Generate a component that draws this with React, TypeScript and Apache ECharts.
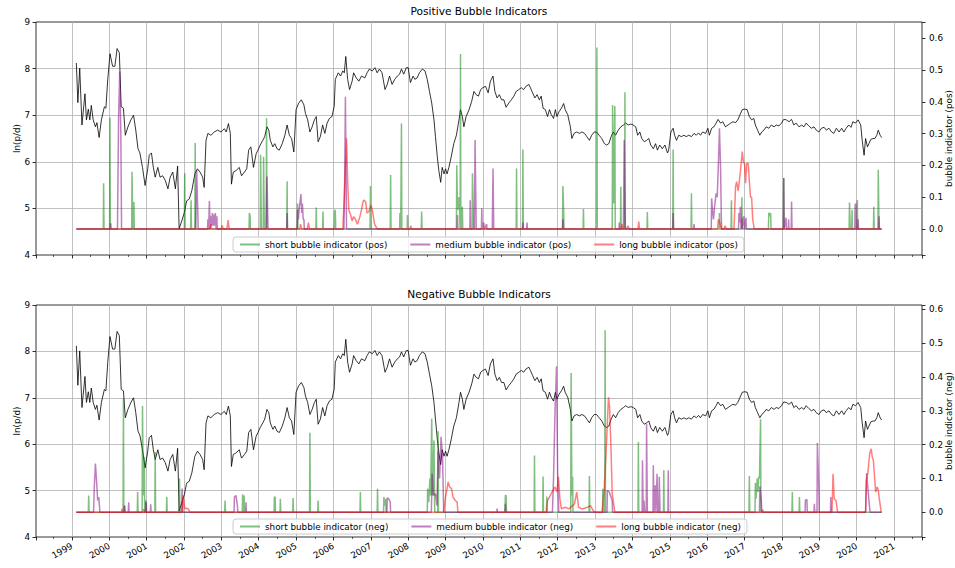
import React, { useEffect, useRef } from 'react';
import * as echarts from 'echarts';

const FONT = "'DejaVu Sans', sans-serif";

// ln(p/d) series: [decimal year, value]
const lnPD: [number, number][] = [
  [1999.12, 8.12], [1999.16, 7.27], [1999.21, 8.01], [1999.27, 6.79], [1999.35, 7.46], [1999.39, 6.9], [1999.44, 7.13], [1999.48, 6.9],
  [1999.52, 7.21], [1999.57, 6.9], [1999.63, 6.75], [1999.67, 6.84], [1999.73, 6.52], [1999.79, 6.9], [1999.87, 7.18], [1999.91, 7.15],
  [1999.96, 7.76], [2000.02, 8.32], [2000.09, 8.05], [2000.15, 8.05], [2000.21, 8.43], [2000.27, 8.34], [2000.32, 7.18], [2000.38, 7.15],
  [2000.43, 6.57], [2000.5, 6.75], [2000.58, 6.9], [2000.65, 7.0], [2000.71, 6.68], [2000.77, 6.28], [2000.82, 6.19], [2000.89, 5.88],
  [2000.96, 5.49], [2001.03, 5.85], [2001.07, 6.14], [2001.13, 6.19], [2001.18, 5.88], [2001.23, 5.67], [2001.3, 5.88], [2001.36, 5.67],
  [2001.43, 5.7], [2001.5, 5.6], [2001.57, 5.42], [2001.63, 5.67], [2001.7, 5.78], [2001.77, 5.42], [2001.83, 5.91], [2001.87, 4.56],
  [2001.94, 4.73], [2002.01, 4.91], [2002.07, 5.16], [2002.14, 5.2], [2002.21, 5.38], [2002.29, 5.74], [2002.36, 5.85], [2002.43, 5.78],
  [2002.5, 5.67], [2002.54, 5.45], [2002.59, 6.46], [2002.64, 6.61], [2002.72, 6.57], [2002.81, 6.64], [2002.9, 6.68], [2002.99, 6.64],
  [2003.08, 6.71], [2003.13, 6.64], [2003.19, 6.82], [2003.24, 6.61], [2003.27, 5.52], [2003.32, 5.78], [2003.39, 5.81], [2003.48, 5.88],
  [2003.54, 5.7], [2003.62, 5.78], [2003.68, 5.85], [2003.73, 6.25], [2003.79, 6.32], [2003.86, 5.88], [2003.93, 6.17], [2003.98, 6.25],
  [2004.04, 6.36], [2004.11, 6.46], [2004.16, 6.54], [2004.22, 6.75], [2004.27, 6.68], [2004.31, 6.46], [2004.38, 6.32], [2004.43, 6.39],
  [2004.49, 6.28], [2004.55, 6.25], [2004.63, 6.39], [2004.7, 6.57], [2004.76, 6.79], [2004.82, 6.57], [2004.88, 6.5], [2004.94, 6.21],
  [2005.0, 7.12], [2005.07, 7.26], [2005.14, 7.33], [2005.21, 7.22], [2005.25, 7.04], [2005.31, 6.9], [2005.37, 6.64], [2005.43, 6.75],
  [2005.49, 6.9], [2005.54, 6.97], [2005.59, 6.43], [2005.65, 6.54], [2005.71, 6.79], [2005.77, 6.61], [2005.83, 6.83], [2005.89, 6.93],
  [2005.96, 6.97], [2006.02, 7.19], [2006.05, 7.77], [2006.13, 7.91], [2006.19, 7.84], [2006.25, 7.95], [2006.29, 7.91], [2006.33, 8.26],
  [2006.38, 7.77], [2006.43, 7.55], [2006.5, 7.73], [2006.54, 7.91], [2006.61, 7.8], [2006.68, 7.73], [2006.75, 7.84], [2006.84, 7.8],
  [2006.9, 7.91], [2006.96, 7.99], [2007.04, 7.95], [2007.11, 8.02], [2007.17, 7.91], [2007.23, 7.99], [2007.3, 7.91], [2007.38, 7.55],
  [2007.44, 7.66], [2007.5, 7.84], [2007.57, 7.66], [2007.64, 7.77], [2007.71, 7.84], [2007.77, 7.88], [2007.82, 7.99], [2007.88, 7.88],
  [2007.95, 8.02], [2008.0, 8.02], [2008.06, 7.7], [2008.13, 7.84], [2008.18, 7.77], [2008.24, 7.8], [2008.3, 7.91], [2008.38, 7.99],
  [2008.45, 7.95], [2008.51, 7.77], [2008.57, 7.51], [2008.63, 7.26], [2008.69, 6.9], [2008.73, 6.54], [2008.78, 6.1], [2008.82, 5.81],
  [2008.87, 5.56], [2008.91, 5.88], [2008.96, 5.74], [2009.0, 5.85], [2009.04, 5.74], [2009.09, 5.88], [2009.15, 6.1], [2009.22, 6.39],
  [2009.29, 6.57], [2009.36, 6.9], [2009.4, 7.12], [2009.45, 6.97], [2009.49, 6.75], [2009.55, 6.97], [2009.63, 7.12], [2009.7, 7.3],
  [2009.76, 7.51], [2009.82, 7.44], [2009.88, 7.41], [2009.94, 7.55], [2010.0, 7.59], [2010.07, 7.62], [2010.14, 7.48], [2010.2, 7.73],
  [2010.27, 7.84], [2010.32, 7.51], [2010.38, 7.37], [2010.44, 7.44], [2010.5, 7.33], [2010.56, 7.33], [2010.62, 7.17], [2010.69, 7.26],
  [2010.76, 7.33], [2010.83, 7.41], [2010.89, 7.51], [2010.96, 7.55], [2011.03, 7.59], [2011.09, 7.55], [2011.15, 7.62], [2011.23, 7.66],
  [2011.27, 7.59], [2011.33, 7.48], [2011.39, 7.37], [2011.45, 7.44], [2011.51, 7.33], [2011.56, 7.41], [2011.61, 7.15], [2011.67, 7.12],
  [2011.73, 6.97], [2011.78, 7.12], [2011.83, 7.01], [2011.89, 6.93], [2011.94, 7.12], [2011.98, 6.97], [2012.04, 7.08], [2012.1, 7.15],
  [2012.16, 7.25], [2012.2, 7.12], [2012.27, 7.01], [2012.34, 6.75], [2012.38, 6.5], [2012.44, 6.61], [2012.51, 6.64], [2012.58, 6.61],
  [2012.65, 6.64], [2012.72, 6.61], [2012.78, 6.54], [2012.85, 6.46], [2012.91, 6.57], [2012.98, 6.64], [2013.04, 6.64], [2013.11, 6.57],
  [2013.18, 6.5], [2013.25, 6.39], [2013.31, 6.36], [2013.37, 6.39], [2013.43, 6.54], [2013.49, 6.64], [2013.55, 6.57], [2013.62, 6.68],
  [2013.69, 6.75], [2013.76, 6.79], [2013.82, 6.83], [2013.89, 6.79], [2013.96, 6.81], [2014.02, 6.79], [2014.09, 6.75], [2014.14, 6.57],
  [2014.2, 6.64], [2014.25, 6.5], [2014.32, 6.43], [2014.38, 6.46], [2014.44, 6.5], [2014.49, 6.36], [2014.56, 6.28], [2014.62, 6.39],
  [2014.67, 6.25], [2014.73, 6.36], [2014.8, 6.28], [2014.87, 6.36], [2014.94, 6.19], [2014.97, 6.25], [2015.03, 6.64], [2015.09, 6.72],
  [2015.13, 6.57], [2015.18, 6.46], [2015.24, 6.57], [2015.31, 6.54], [2015.38, 6.57], [2015.44, 6.54], [2015.51, 6.57], [2015.58, 6.54],
  [2015.65, 6.61], [2015.71, 6.57], [2015.77, 6.62], [2015.82, 6.57], [2015.88, 6.64], [2015.96, 6.61], [2016.02, 6.72], [2016.06, 6.57],
  [2016.12, 6.72], [2016.18, 6.75], [2016.24, 6.83], [2016.29, 6.91], [2016.36, 6.83], [2016.42, 6.86], [2016.49, 6.75], [2016.56, 6.79],
  [2016.63, 6.83], [2016.69, 6.86], [2016.76, 6.84], [2016.82, 6.9], [2016.88, 7.01], [2016.94, 7.12], [2017.01, 7.13], [2017.07, 7.12],
  [2017.13, 6.97], [2017.19, 6.9], [2017.25, 6.93], [2017.29, 6.79], [2017.35, 6.68], [2017.41, 6.57], [2017.46, 6.64], [2017.52, 6.68],
  [2017.58, 6.75], [2017.65, 6.72], [2017.72, 6.79], [2017.79, 6.75], [2017.85, 6.79], [2017.92, 6.77], [2017.99, 6.83], [2018.05, 6.91],
  [2018.12, 6.9], [2018.19, 6.86], [2018.26, 6.91], [2018.32, 6.79], [2018.38, 6.83], [2018.46, 6.75], [2018.53, 6.79], [2018.59, 6.75],
  [2018.65, 6.83], [2018.72, 6.77], [2018.79, 6.72], [2018.86, 6.75], [2018.92, 6.68], [2018.99, 6.64], [2019.06, 6.72], [2019.13, 6.74],
  [2019.19, 6.68], [2019.26, 6.72], [2019.33, 6.64], [2019.39, 6.61], [2019.46, 6.72], [2019.53, 6.64], [2019.6, 6.72], [2019.66, 6.64],
  [2019.72, 6.72], [2019.79, 6.79], [2019.85, 6.74], [2019.9, 6.86], [2019.97, 6.83], [2020.04, 6.9], [2020.11, 6.79], [2020.15, 6.46],
  [2020.2, 6.14], [2020.24, 6.5], [2020.29, 6.32], [2020.33, 6.39], [2020.38, 6.48], [2020.44, 6.5], [2020.49, 6.5], [2020.54, 6.57],
  [2020.58, 6.68], [2020.63, 6.57], [2020.67, 6.52],
];

const shortPos: [number, number][] = [
  [1999.12, 0],
  [1999.84, 0], [1999.85, 0.144], [1999.86, 0],
  [2000.01, 0], [2000.02, 0.35], [2000.03, 0],
  [2000.6, 0], [2000.61, 0.18], [2000.63, 0], [2000.66, 0.085], [2000.67, 0],
  [2002.01, 0], [2002.02, 0.175], [2002.03, 0],
  [2002.18, 0], [2002.19, 0.09], [2002.2, 0],
  [2002.29, 0], [2002.3, 0.27], [2002.31, 0],
  [2003.74, 0], [2003.75, 0.05], [2003.77, 0.04], [2003.78, 0],
  [2004.04, 0], [2004.05, 0.233], [2004.07, 0], [2004.12, 0], [2004.13, 0.227], [2004.15, 0], [2004.2, 0], [2004.21, 0.348], [2004.22, 0],
  [2004.75, 0], [2004.76, 0.15], [2004.77, 0],
  [2005.03, 0], [2005.04, 0.08], [2005.05, 0],
  [2005.53, 0], [2005.54, 0.067], [2005.55, 0],
  [2005.71, 0], [2005.72, 0.055], [2005.73, 0],
  [2006.02, 0], [2006.03, 0.055], [2006.05, 0.06], [2006.06, 0],
  [2006.98, 0], [2006.99, 0.135], [2007.0, 0],
  [2007.52, 0], [2007.53, 0.17], [2007.54, 0],
  [2007.77, 0], [2007.78, 0.05], [2007.8, 0], [2007.81, 0], [2007.82, 0.332], [2007.83, 0],
  [2007.97, 0], [2007.98, 0.044], [2007.99, 0],
  [2008.35, 0], [2008.36, 0.055], [2008.37, 0],
  [2009.29, 0], [2009.3, 0.2], [2009.32, 0.06], [2009.36, 0.1], [2009.39, 0], [2009.4, 0.55], [2009.41, 0], [2009.44, 0], [2009.45, 0.07], [2009.46, 0],
  [2009.71, 0], [2009.72, 0.175], [2009.74, 0.05], [2009.75, 0],
  [2010.89, 0], [2010.9, 0.19], [2010.91, 0],
  [2011.06, 0], [2011.07, 0.25], [2011.08, 0],
  [2012.13, 0], [2012.14, 0.135], [2012.16, 0.06], [2012.17, 0],
  [2012.68, 0], [2012.69, 0.063], [2012.7, 0],
  [2013.04, 0], [2013.05, 0.571], [2013.06, 0],
  [2013.46, 0], [2013.47, 0.39], [2013.5, 0.08], [2013.53, 0.387], [2013.54, 0],
  [2013.68, 0], [2013.69, 0.133], [2013.7, 0], [2013.79, 0], [2013.8, 0.43], [2013.81, 0],
  [2014.39, 0], [2014.4, 0.053], [2014.41, 0],
  [2015.08, 0], [2015.09, 0.25], [2015.1, 0],
  [2015.57, 0], [2015.58, 0.112], [2015.59, 0],
  [2016.32, 0], [2016.33, 0.05], [2016.34, 0],
  [2016.64, 0], [2016.65, 0.09], [2016.66, 0],
  [2016.92, 0], [2016.93, 0.1], [2016.94, 0],
  [2017.64, 0], [2017.65, 0.051], [2017.68, 0.04], [2017.7, 0.05], [2017.71, 0],
  [2018.04, 0], [2018.05, 0.16], [2018.06, 0],
  [2019.8, 0], [2019.81, 0.083], [2019.83, 0], [2019.87, 0], [2019.88, 0.06], [2019.89, 0],
  [2020.01, 0], [2020.02, 0.091], [2020.03, 0],
  [2020.45, 0], [2020.46, 0.07], [2020.47, 0],
  [2020.57, 0], [2020.58, 0.186], [2020.6, 0],
  [2020.67, 0],
];

const mediumPos: [number, number][] = [
  [1999.12, 0],
  [2000.03, 0], [2000.04, 0.018], [2000.05, 0],
  [2000.22, 0], [2000.25, 0.35], [2000.28, 0.495], [2000.31, 0.3], [2000.33, 0],
  [2002.31, 0], [2002.33, 0.12], [2002.34, 0.185], [2002.37, 0.05], [2002.38, 0],
  [2002.63, 0], [2002.64, 0.03], [2002.66, 0], [2002.68, 0.088], [2002.7, 0], [2002.72, 0.04], [2002.74, 0.01], [2002.76, 0.05],
  [2002.78, 0.01], [2002.8, 0.045], [2002.82, 0.01], [2002.84, 0.05], [2002.86, 0], [2002.88, 0.04], [2002.89, 0],
  [2004.2, 0], [2004.22, 0.165], [2004.24, 0.05], [2004.25, 0],
  [2004.75, 0], [2004.76, 0.05], [2004.77, 0],
  [2005.03, 0], [2005.04, 0.06], [2005.06, 0.03], [2005.09, 0.07], [2005.13, 0.11], [2005.15, 0.05], [2005.17, 0.08], [2005.19, 0.03], [2005.21, 0.03], [2005.22, 0],
  [2006.28, 0], [2006.3, 0.15], [2006.32, 0.416], [2006.34, 0.15], [2006.35, 0],
  [2009.31, 0], [2009.32, 0.044], [2009.33, 0],
  [2009.65, 0], [2009.66, 0.09], [2009.67, 0],
  [2009.77, 0], [2009.79, 0.28], [2009.81, 0.1], [2009.82, 0],
  [2009.96, 0], [2009.97, 0.065], [2009.98, 0], [2010.02, 0.02], [2010.04, 0], [2010.1, 0.015], [2010.11, 0],
  [2010.25, 0], [2010.27, 0.19], [2010.29, 0],
  [2011.06, 0], [2011.07, 0.02], [2011.08, 0], [2011.17, 0], [2011.18, 0.02], [2011.19, 0],
  [2012.13, 0], [2012.14, 0.03], [2012.15, 0],
  [2013.64, 0], [2013.65, 0.02], [2013.66, 0],
  [2013.76, 0], [2013.78, 0.28], [2013.8, 0.06], [2013.81, 0],
  [2015.08, 0], [2015.09, 0.05], [2015.1, 0],
  [2015.64, 0], [2015.65, 0.015], [2015.66, 0],
  [2016.11, 0], [2016.12, 0.096], [2016.15, 0.05], [2016.17, 0.03], [2016.2, 0.07], [2016.24, 0.112], [2016.27, 0.1], [2016.3, 0.2],
  [2016.33, 0.317], [2016.36, 0.19], [2016.38, 0.03], [2016.39, 0],
  [2016.84, 0], [2016.85, 0.05], [2016.87, 0.02], [2016.89, 0.07], [2016.91, 0], [2016.92, 0.035], [2016.94, 0], [2016.98, 0.04], [2017.0, 0], [2017.04, 0.035], [2017.05, 0],
  [2018.04, 0], [2018.05, 0.16], [2018.06, 0], [2018.11, 0.035], [2018.12, 0], [2018.17, 0], [2018.18, 0.03], [2018.19, 0],
  [2018.25, 0], [2018.26, 0.086], [2018.27, 0],
  [2019.95, 0], [2019.96, 0.075], [2019.98, 0.08], [2019.99, 0], [2020.03, 0], [2020.04, 0.03], [2020.05, 0],
  [2020.59, 0], [2020.6, 0.04], [2020.61, 0],
  [2020.67, 0],
];

const longPos: [number, number][] = [
  [1999.12, 0],
  [2002.7, 0], [2002.72, 0.015], [2002.74, 0],
  [2003.0, 0], [2003.02, 0.012], [2003.05, 0], [2003.15, 0], [2003.18, 0.028], [2003.21, 0],
  [2005.1, 0], [2005.12, 0.015], [2005.15, 0], [2005.3, 0], [2005.33, 0.02], [2005.36, 0],
  [2006.25, 0], [2006.29, 0.1], [2006.32, 0.2], [2006.35, 0.285], [2006.38, 0.15], [2006.41, 0.06], [2006.46, 0.044], [2006.5, 0.025],
  [2006.54, 0.039], [2006.59, 0.03], [2006.64, 0.015], [2006.7, 0.035], [2006.75, 0.06], [2006.78, 0.08], [2006.81, 0.091], [2006.86, 0.086],
  [2006.9, 0.05], [2006.95, 0.055], [2007.0, 0.075], [2007.04, 0.06], [2007.1, 0.015], [2007.17, 0],
  [2008.05, 0], [2008.07, 0.01], [2008.09, 0],
  [2013.7, 0], [2013.72, 0.015], [2013.75, 0], [2013.85, 0], [2013.88, 0.01], [2013.92, 0], [2014.15, 0], [2014.17, 0.023], [2014.19, 0],
  [2016.28, 0], [2016.3, 0.03], [2016.34, 0.02], [2016.38, 0], [2016.45, 0], [2016.48, 0.01], [2016.52, 0],
  [2016.72, 0], [2016.76, 0.133], [2016.79, 0.149], [2016.83, 0.12], [2016.89, 0.18], [2016.94, 0.243], [2016.97, 0.21], [2017.0, 0.206],
  [2017.03, 0.144], [2017.06, 0.206], [2017.1, 0.206], [2017.13, 0.15], [2017.16, 0.1], [2017.19, 0.1], [2017.22, 0.03], [2017.26, 0],
  [2020.67, 0],
];

const shortNeg: [number, number][] = [
  [1999.12, 0],
  [1999.44, 0], [1999.45, 0.05], [1999.46, 0],
  [2000.37, 0], [2000.38, 0.336], [2000.39, 0], [2000.41, 0], [2000.42, 0.02], [2000.43, 0],
  [2000.75, 0], [2000.76, 0.06], [2000.77, 0],
  [2000.88, 0], [2000.89, 0.314], [2000.91, 0.05], [2000.94, 0.164], [2000.95, 0], [2000.98, 0], [2000.99, 0.03], [2001.0, 0],
  [2001.22, 0], [2001.23, 0.178], [2001.24, 0],
  [2001.53, 0], [2001.54, 0.045], [2001.55, 0],
  [2001.87, 0], [2001.88, 0.1], [2001.89, 0],
  [2003.09, 0], [2003.1, 0.035], [2003.11, 0],
  [2003.56, 0], [2003.57, 0.053], [2003.58, 0], [2003.6, 0], [2003.61, 0.05], [2003.62, 0],
  [2004.41, 0], [2004.42, 0.045], [2004.44, 0.045], [2004.45, 0],
  [2004.57, 0], [2004.58, 0.04], [2004.59, 0],
  [2004.91, 0], [2004.92, 0.042], [2004.93, 0],
  [2005.36, 0], [2005.37, 0.235], [2005.38, 0],
  [2005.58, 0], [2005.59, 0.035], [2005.6, 0],
  [2006.71, 0], [2006.72, 0.06], [2006.73, 0],
  [2007.17, 0], [2007.18, 0.07], [2007.19, 0],
  [2007.34, 0], [2007.35, 0.045], [2007.37, 0.02], [2007.4, 0.04], [2007.41, 0],
  [2008.51, 0], [2008.52, 0.07], [2008.55, 0.03], [2008.58, 0.1], [2008.6, 0.05], [2008.63, 0.277], [2008.65, 0.05], [2008.69, 0.213], [2008.71, 0],
  [2008.79, 0], [2008.8, 0.24], [2008.81, 0],
  [2010.59, 0], [2010.6, 0.05], [2010.62, 0.05], [2010.63, 0],
  [2011.37, 0], [2011.38, 0.168], [2011.39, 0],
  [2011.6, 0], [2011.61, 0.106], [2011.62, 0],
  [2011.7, 0], [2011.71, 0.047], [2011.72, 0],
  [2012.35, 0], [2012.36, 0.412], [2012.38, 0.05], [2012.4, 0.105], [2012.41, 0],
  [2012.84, 0], [2012.85, 0.107], [2012.86, 0],
  [2013.2, 0], [2013.21, 0.07], [2013.22, 0], [2013.26, 0], [2013.27, 0.538], [2013.28, 0],
  [2014.15, 0], [2014.16, 0.208], [2014.17, 0],
  [2014.83, 0], [2014.84, 0.124], [2014.85, 0],
  [2017.12, 0], [2017.13, 0.107], [2017.14, 0],
  [2017.28, 0], [2017.29, 0.087], [2017.31, 0.04], [2017.34, 0.1], [2017.36, 0.06], [2017.38, 0.105], [2017.4, 0.1], [2017.43, 0.275], [2017.44, 0],
  [2018.27, 0], [2018.28, 0.06], [2018.29, 0],
  [2018.46, 0], [2018.47, 0.045], [2018.48, 0],
  [2020.67, 0],
];

const mediumNeg: [number, number][] = [
  [1999.12, 0],
  [1999.58, 0], [1999.6, 0.075], [1999.63, 0.144], [1999.66, 0.095], [1999.69, 0.035], [1999.72, 0.045], [1999.75, 0],
  [2000.39, 0], [2000.4, 0.02], [2000.41, 0],
  [2000.51, 0], [2000.52, 0.03], [2000.53, 0],
  [2000.97, 0], [2000.98, 0.035], [2000.99, 0],
  [2001.1, 0], [2001.11, 0.024], [2001.12, 0],
  [2001.93, 0], [2001.95, 0.07], [2001.97, 0],
  [2003.34, 0], [2003.35, 0.045], [2003.39, 0.05], [2003.43, 0.02], [2003.44, 0],
  [2003.65, 0], [2003.66, 0.03], [2003.67, 0],
  [2007.43, 0], [2007.44, 0.043], [2007.48, 0.04], [2007.52, 0.03], [2007.53, 0],
  [2008.62, 0], [2008.64, 0.114], [2008.68, 0.05], [2008.73, 0.055], [2008.77, 0.02], [2008.8, 0.18], [2008.84, 0.1], [2008.88, 0.223], [2008.92, 0.164], [2008.95, 0],
  [2010.37, 0], [2010.38, 0.011], [2010.39, 0],
  [2010.59, 0], [2010.6, 0.025], [2010.61, 0],
  [2011.86, 0], [2011.89, 0.104], [2011.93, 0.3], [2011.97, 0.432], [2012.0, 0.11], [2012.03, 0],
  [2013.32, 0], [2013.33, 0.065], [2013.38, 0.06], [2013.46, 0.035], [2013.47, 0],
  [2014.26, 0], [2014.27, 0.154], [2014.29, 0], [2014.31, 0.035], [2014.33, 0], [2014.37, 0], [2014.38, 0.262], [2014.4, 0],
  [2014.55, 0], [2014.56, 0.139], [2014.58, 0], [2014.61, 0.08], [2014.63, 0], [2014.66, 0.114], [2014.68, 0], [2014.71, 0], [2014.72, 0.105], [2014.74, 0],
  [2014.95, 0], [2014.96, 0.124], [2014.97, 0],
  [2017.4, 0], [2017.41, 0.077], [2017.45, 0.035], [2017.46, 0],
  [2018.62, 0], [2018.63, 0.036], [2018.67, 0.038], [2018.68, 0],
  [2018.86, 0], [2018.87, 0.025], [2018.88, 0], [2018.94, 0], [2018.95, 0.205], [2018.99, 0.075], [2019.0, 0],
  [2019.3, 0], [2019.31, 0.045], [2019.32, 0],
  [2020.24, 0], [2020.27, 0.116], [2020.3, 0.075], [2020.33, 0.035], [2020.36, 0],
  [2020.67, 0],
];

const longNeg: [number, number][] = [
  [1999.12, 0],
  [2000.33, 0], [2000.34, 0.01], [2000.36, 0],
  [2000.91, 0], [2000.92, 0.01], [2000.94, 0],
  [2001.95, 0], [2001.98, 0.05], [2002.02, 0.01], [2002.06, 0.012], [2002.12, 0.01], [2002.16, 0],
  [2008.95, 0], [2009.0, 0.045], [2009.07, 0.09], [2009.11, 0.075], [2009.16, 0.07], [2009.2, 0.045], [2009.26, 0.035], [2009.31, 0.03], [2009.33, 0],
  [2011.7, 0], [2011.73, 0.035], [2011.78, 0.045], [2011.85, 0.06], [2011.93, 0.075], [2011.98, 0.06], [2012.02, 0.105], [2012.06, 0.04],
  [2012.1, 0.01], [2012.2, 0.015], [2012.3, 0.01], [2012.45, 0.025], [2012.51, 0.06], [2012.56, 0.015], [2012.65, 0.01], [2012.8, 0.015],
  [2012.88, 0.02], [2012.95, 0.005], [2013.0, 0],
  [2013.19, 0], [2013.25, 0.075], [2013.31, 0.21], [2013.36, 0.341], [2013.39, 0.31], [2013.43, 0.18], [2013.46, 0.055], [2013.53, 0],
  [2017.46, 0], [2017.48, 0.008], [2017.52, 0],
  [2019.34, 0], [2019.37, 0.114], [2019.4, 0.04], [2019.45, 0.035], [2019.49, 0],
  [2020.24, 0], [2020.26, 0.095], [2020.3, 0.115], [2020.35, 0.174], [2020.39, 0.188], [2020.42, 0.163], [2020.45, 0.153], [2020.48, 0.105],
  [2020.51, 0.06], [2020.55, 0.075], [2020.58, 0.065], [2020.62, 0.03], [2020.66, 0],
  [2020.67, 0],
];

const panelTitles = ['Positive Bubble Indicators', 'Negative Bubble Indicators'];
const leftAxisName = 'ln(p/d)';
const rightAxisNames = ['bubble indicator (pos)', 'bubble indicator (neg)'];
const posNames = ['short bubble indicator (pos)', 'medium bubble indicator (pos)', 'long bubble indicator (pos)'];
const negNames = ['short bubble indicator (neg)', 'medium bubble indicator (neg)', 'long bubble indicator (neg)'];
const indicatorColors = ['rgba(0,128,0,0.5)', 'rgba(128,0,128,0.5)', 'rgba(255,0,0,0.5)'];
const rightRanges: [number, number][] = [[-0.082, 0.651], [-0.073, 0.613]];

const GRID_TOPS = [22, 305];
const GRID_H = [233, 232];

export default function App() {
  const ref = useRef<HTMLDivElement>(null);
  useEffect(() => {
    if (!ref.current) return;
    const chart = echarts.init(ref.current, null, { renderer: 'svg' });
    const txt = { fontFamily: FONT, fontSize: 8.8, color: '#000' };
    const tickStyle = { color: '#000', width: 0.8 };
    const gridLine = { color: '#b0b0b0', width: 0.8 };

    const xAxis = [0, 1].map((g) => ({
      type: 'value',
      gridIndex: g,
      position: 'bottom',
      min: 1998.04,
      max: 2021.75,
      splitNumber: 24,
      minInterval: 1,
      maxInterval: 1,
      axisLine: { show: false, onZero: false },
      axisTick: { show: true, inside: false, length: 3.5, lineStyle: tickStyle },
      minorTick: { show: true, splitNumber: 2, length: 2, lineStyle: { color: '#000', width: 0.6 } },
      splitLine: { show: true, showMinLine: false, showMaxLine: false, lineStyle: gridLine },
      axisLabel:
        g === 1
          ? {
              show: true,
              rotate: 30,
              margin: 8,
              ...txt,
              formatter: (v: number) => (Math.abs(v - Math.round(v)) < 1e-6 ? String(Math.round(v)) : ''),
            }
          : { show: false },
    }));

    const yAxis: any[] = [];
    [0, 1].forEach((g) => {
      yAxis.push({
        type: 'value',
        gridIndex: g,
        position: 'left',
        min: 4,
        max: 9,
        interval: 1,
        name: leftAxisName,
        nameLocation: 'middle',
        nameRotate: 90,
        nameGap: 15,
        nameMoveOverlap: false,
        nameTextStyle: txt,
        axisLine: { show: false, onZero: false },
        axisTick: { show: true, length: 3.5, lineStyle: tickStyle },
        axisLabel: { margin: 6, ...txt },
        splitLine: { show: true, showMinLine: false, showMaxLine: false, lineStyle: gridLine },
      });
      yAxis.push({
        type: 'value',
        gridIndex: g,
        position: 'right',
        min: rightRanges[g][0],
        max: rightRanges[g][1],
        splitNumber: 7,
        minInterval: 0.1,
        maxInterval: 0.1,
        name: rightAxisNames[g],
        nameLocation: 'middle',
        nameRotate: 90,
        nameGap: 22,
        nameMoveOverlap: false,
        nameTextStyle: txt,
        axisLine: { show: false, onZero: false },
        axisTick: { show: true, length: 3.5, lineStyle: tickStyle },
        axisLabel: {
          margin: 7,
          ...txt,
          formatter: (v: number) => (Math.abs(v * 10 - Math.round(v * 10)) < 1e-6 ? (Math.round(v * 10) / 10).toFixed(1) : ''),
        },
        splitLine: { show: false },
      });
    });

    const lineSeries = (name: string, data: [number, number][], xi: number, yi: number, color: string, width: number) => ({
      type: 'line',
      name,
      data,
      xAxisIndex: xi,
      yAxisIndex: yi,
      symbol: 'none',
      showSymbol: false,
      silent: true,
      lineStyle: { color, width },
      itemStyle: { color },
      emphasis: { disabled: true },
    });

    const series = [
      lineSeries('lnpd_pos', lnPD, 0, 0, '#000', 0.8),
      lineSeries(posNames[0], shortPos, 0, 1, indicatorColors[0], 1.5),
      lineSeries(posNames[1], mediumPos, 0, 1, indicatorColors[1], 1.5),
      lineSeries(posNames[2], longPos, 0, 1, indicatorColors[2], 1.5),
      lineSeries('lnpd_neg', lnPD, 1, 2, '#000', 0.8),
      lineSeries(negNames[0], shortNeg, 1, 3, indicatorColors[0], 1.5),
      lineSeries(negNames[1], mediumNeg, 1, 3, indicatorColors[1], 1.5),
      lineSeries(negNames[2], longNeg, 1, 3, indicatorColors[2], 1.5),
    ];

    const legendBase = {
      left: 233,
      orient: 'horizontal',
      itemWidth: 20,
      itemHeight: 10,
      itemGap: 22,
      padding: [3, 6],
      borderColor: '#cccccc',
      borderWidth: 1,
      borderRadius: 3,
      backgroundColor: 'rgba(255,255,255,0.8)',
      textStyle: txt,
      selectedMode: false,
      itemStyle: { opacity: 0, color: 'rgba(0,0,0,0)', borderColor: 'rgba(0,0,0,0)', borderWidth: 0 },
    };

    const option: any = {
      animation: false,
      backgroundColor: '#ffffff',
      title: panelTitles.map((t, i) => ({
        text: t,
        left: 479,
        textAlign: 'center',
        top: i === 0 ? 5 : 288,
        padding: 0,
        textStyle: { fontFamily: FONT, fontSize: 10.6, fontWeight: 'normal', color: '#000' },
      })),
      legend: [
        { ...legendBase, top: 237, data: posNames },
        { ...legendBase, top: 519, data: negNames },
      ],
      grid: [0, 1].map((g) => ({
        left: 36,
        top: GRID_TOPS[g],
        width: 886,
        height: GRID_H[g],
        show: true,
        borderColor: '#000',
        borderWidth: 0.8,
        backgroundColor: 'rgba(0,0,0,0)',
        containLabel: false,
        outerBoundsMode: 'none',
      })),
      xAxis,
      yAxis,
      series,
    };
    chart.setOption(option);
    return () => chart.dispose();
  }, []);
  return (
    <div
      ref={ref}
      style={{ position: 'fixed', left: 0, top: 0, width: 955, height: 568, background: '#fff' }}
    />
  );
}
